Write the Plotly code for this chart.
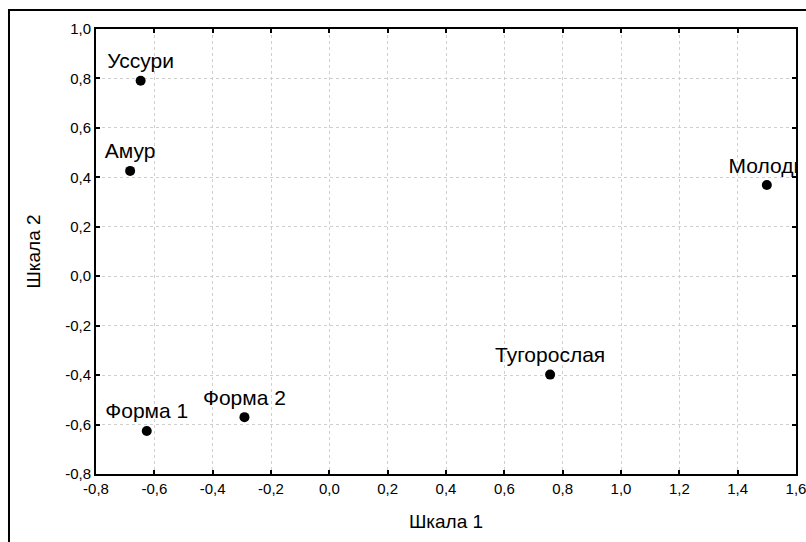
import plotly.graph_objects as go

names = ["Уссури", "Амур", "Молоди", "Тугорослая", "Форма 1", "Форма 2"]
scale1 = [-0.647, -0.683, 1.50, 0.757, -0.626, -0.291]
scale2 = [0.791, 0.426, 0.369, -0.398, -0.626, -0.570]

x_ticks = [-0.8, -0.6, -0.4, -0.2, 0.0, 0.2, 0.4, 0.6, 0.8, 1.0, 1.2, 1.4, 1.6]
x_ticktext = ["-0,8", "-0,6", "-0,4", "-0,2", "0,0", "0,2", "0,4", "0,6", "0,8", "1,0", "1,2", "1,4", "1,6"]
y_ticks = [-0.8, -0.6, -0.4, -0.2, 0.0, 0.2, 0.4, 0.6, 0.8, 1.0]
y_ticktext = ["-0,8", "-0,6", "-0,4", "-0,2", "0,0", "0,2", "0,4", "0,6", "0,8", "1,0"]

font_family = "Arial, Liberation Sans, sans-serif"

fig = go.Figure()
fig.add_trace(go.Scatter(
    x=scale1, y=scale2, mode="markers+text", text=names,
    textposition="top center",
    textfont=dict(family=font_family, size=21, color="black"),
    marker=dict(size=10, color="black"),
    cliponaxis=True, showlegend=False,
))

axis_common = dict(
    showline=True, linecolor="black", linewidth=2, mirror="ticks",
    ticks="inside", ticklen=4, tickcolor="black", tickwidth=2,
    showgrid=True, gridcolor="#cfcfcf", griddash="dot", gridwidth=1,
    zeroline=False, tickfont=dict(family=font_family, size=15, color="black"),
    automargin=False, ticklabeloverflow="allow",
)

fig.update_xaxes(range=[-0.8, 1.6], tickvals=x_ticks, ticktext=x_ticktext,
                 title=dict(text="Шкала 1", font=dict(family=font_family, size=19, color="black"), standoff=19),
                 **axis_common)
fig.update_yaxes(range=[-0.8, 1.0], tickvals=y_ticks, ticktext=y_ticktext,
                 title=dict(text="Шкала 2", font=dict(family=font_family, size=19, color="black"), standoff=19),
                 **axis_common)

fig.add_shape(type="rect", xref="paper", yref="paper",
              x0=-0.1243, x1=1.03, y0=-0.2, y1=1.0427,
              line=dict(color="black", width=2), layer="above")

fig.update_layout(
    width=806, height=542,
    margin=dict(l=96, r=10, t=29, b=68, autoexpand=False),
    paper_bgcolor="white", plot_bgcolor="white",
    font=dict(family=font_family, color="black"),
)

fig.write_html("out.html", config={"displayModeBar": False},
               post_script="document.body.style.margin='0';document.body.style.overflow='hidden';")
